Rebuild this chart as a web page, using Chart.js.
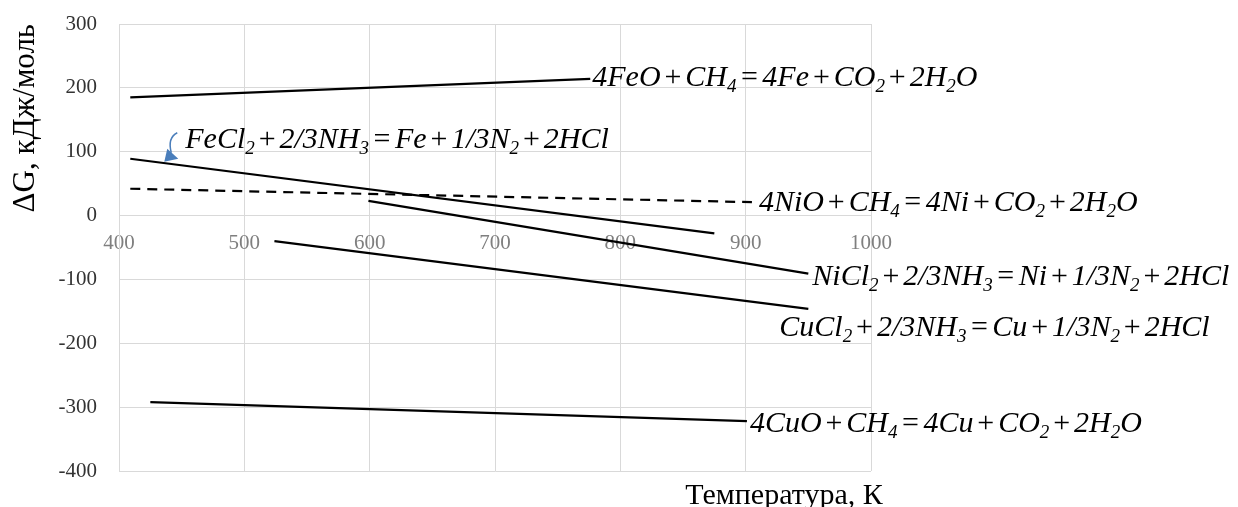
<!DOCTYPE html>
<html><head><meta charset="utf-8">
<script src="https://cdn.jsdelivr.net/npm/chart.js@4.4.0/dist/chart.umd.min.js"></script>
<style>html,body{margin:0;padding:0;background:#fff}</style>
</head><body>
<canvas id="c" width="1238" height="507"></canvas>
<script>
// ---- data ----
const xTicks = [400, 500, 600, 700, 800, 900, 1000];
const yTicks = [-400, -300, -200, -100, 0, 100, 200, 300];
const reactions = [
  '4FeO+CH_4=4Fe+CO_2+2H_2O',
  'FeCl_2+2/3NH_3=Fe+1/3N_2+2HCl',
  '4NiO+CH_4=4Ni+CO_2+2H_2O',
  'NiCl_2+2/3NH_3=Ni+1/3N_2+2HCl',
  'CuCl_2+2/3NH_3=Cu+1/3N_2+2HCl',
  '4CuO+CH_4=4Cu+CO_2+2H_2O'
];
const tempFeO = [409, 776];   const dgFeO = [185, 214];
const tempFeCl2 = [409, 875]; const dgFeCl2 = [89, -28];
const tempNiO = [409, 905];   const dgNiO = [42, 21];
const tempNiCl2 = [599, 950]; const dgNiCl2 = [23, -91];
const tempCuCl2 = [524, 950]; const dgCuCl2 = [-40, -146];
const tempCuO = [425, 901];   const dgCuO = [-292, -322];
const xTitle = 'Температура, К';
const yTitle = 'ΔG, кДж/моль';

// ---- styling / label placement (pixel offsets from a line end) ----
const series = [
  {t: tempFeO, g: dgFeO, dash: [], anchor: 'end', dx: 2, dy: 7},
  {t: tempFeCl2, g: dgFeCl2, dash: [], anchor: 'start', dx: 55, dy: -11, arrow: true},
  {t: tempNiO, g: dgNiO, dash: [10, 7], anchor: 'end', dx: 7, dy: 9},
  {t: tempNiCl2, g: dgNiCl2, dash: [], anchor: 'end', dx: 4, dy: 11},
  {t: tempCuCl2, g: dgCuCl2, dash: [], anchor: 'end', dx: -29, dy: 27},
  {t: tempCuO, g: dgCuO, dash: [], anchor: 'end', dx: 3, dy: 11}
];

const FONT = '"Liberation Serif", "Times New Roman", serif';
const LABEL_SIZE = 30;

function drawRich(ctx, str, x, y, size) {
  const main = `italic ${size}px ${FONT}`;
  const op = `${size}px ${FONT}`;
  const sub = `italic ${Math.round(size * 0.64)}px ${FONT}`;
  let cx = x;
  ctx.textBaseline = 'alphabetic';
  ctx.textAlign = 'left';
  for (let i = 0; i < str.length; i++) {
    const ch = str[i];
    if (ch === '_') {
      i++;
      ctx.font = sub;
      ctx.fillText(str[i], cx, y + size * 0.2);
      cx += ctx.measureText(str[i]).width;
      continue;
    }
    if (ch === '+' || ch === '=') {
      ctx.font = op;
      const sp = size * (ch === '=' ? 0.15 : 0.13);
      cx += sp;
      ctx.fillText(ch, cx, y);
      cx += ctx.measureText(ch).width + sp;
      continue;
    }
    ctx.font = main;
    ctx.fillText(ch, cx, y);
    cx += ctx.measureText(ch).width;
  }
  return cx;
}

const labelPlugin = {
  id: 'labels',
  beforeDraw(chart) {
    const ctx = chart.ctx;
    ctx.save();
    ctx.fillStyle = '#fff';
    ctx.fillRect(0, 0, chart.width, chart.height);
    ctx.restore();
  },
  afterDatasetsDraw(chart) {
    const ctx = chart.ctx;
    const xs = chart.scales.x, ys = chart.scales.y;
    ctx.save();
    series.forEach((s, i) => {
      const k = s.anchor === 'end' ? s.t.length - 1 : 0;
      const px = xs.getPixelForValue(s.t[k]);
      const py = ys.getPixelForValue(s.g[k]);
      const lx = px + s.dx, ly = py + s.dy;
      ctx.fillStyle = '#000';
      drawRich(ctx, reactions[i], lx, ly, LABEL_SIZE);
      if (s.arrow) {
        ctx.strokeStyle = '#4a7ebb';
        ctx.fillStyle = '#4a7ebb';
        ctx.lineWidth = 1.5;
        ctx.beginPath();
        ctx.moveTo(lx - 8, ly - 15);
        ctx.quadraticCurveTo(lx - 18, ly - 10, lx - 14, ly + 5);
        ctx.stroke();
        ctx.beginPath();
        ctx.moveTo(lx - 21, ly + 14);
        ctx.lineTo(lx - 18, ly + 1);
        ctx.lineTo(lx - 7, ly + 11);
        ctx.closePath();
        ctx.fill();
      }
    });
    // x-axis title
    ctx.fillStyle = '#000';
    ctx.font = `30px ${FONT}`;
    ctx.textAlign = 'center';
    ctx.textBaseline = 'alphabetic';
    ctx.fillText(xTitle, 784, 504);
    ctx.restore();
  }
};

const datasets = series.map(s => ({
  data: s.t.map((t, i) => ({x: t, y: s.g[i]})),
  borderColor: '#000',
  borderWidth: 2.2,
  borderDash: s.dash,
  pointRadius: 0,
  fill: false,
  tension: 0
}));

new Chart(document.getElementById('c'), {
  type: 'line',
  data: {datasets},
  plugins: [labelPlugin],
  options: {
    responsive: false,
    animation: false,
    layout: {padding: {top: 24, right: 367, bottom: 36, left: 0}},
    plugins: {legend: {display: false}, tooltip: {enabled: false}},
    scales: {
      x: {
        type: 'linear', min: 400, max: 1000, position: {y: 0},
        afterBuildTicks: s => { s.ticks = xTicks.map(v => ({value: v})); },
        afterFit: s => { s.paddingTop = 0; s.paddingBottom = 0; s.paddingLeft = 0; s.paddingRight = 0; },
        grid: {color: '#d9d9d9', lineWidth: 1, drawTicks: false},
        border: {color: '#d9d9d9'},
        ticks: {padding: 15, maxRotation: 0, autoSkip: false,
          callback: v => String(v),
          font: {family: FONT, size: 21}, color: '#7f7f7f'}
      },
      y: {
        type: 'linear', min: -400, max: 300, position: 'left',
        afterBuildTicks: s => { s.ticks = yTicks.map(v => ({value: v})); },
        afterFit: s => { s.width = 119; s.paddingTop = 0; s.paddingBottom = 0; },
        grid: {color: '#d9d9d9', lineWidth: 1, drawTicks: false},
        border: {color: '#d9d9d9'},
        ticks: {padding: 22, autoSkip: false, callback: v => String(v),
          font: {family: FONT, size: 21}, color: '#333333'},
        title: {display: true, text: yTitle, align: 'end', color: '#000',
          font: {family: FONT, size: 31}, padding: {top: 7, bottom: 0}}
      }
    }
  }
});
</script>
</body></html>
